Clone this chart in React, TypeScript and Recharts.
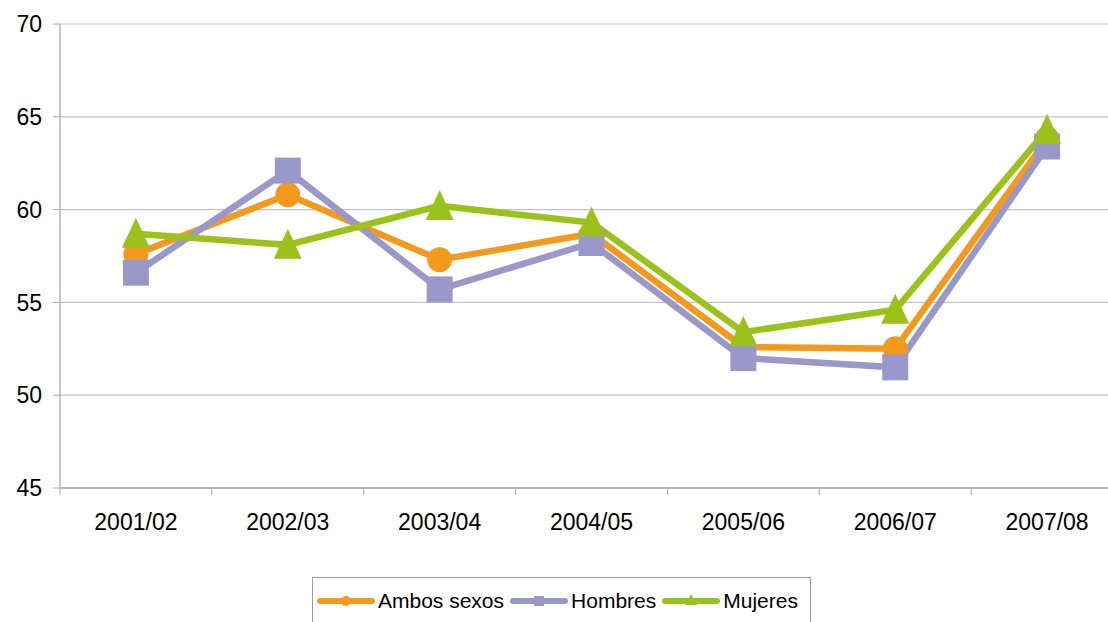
import React from 'react';
import { LineChart, Line, XAxis, YAxis, CartesianGrid, Legend } from 'recharts';

const categories = ['2001/02', '2002/03', '2003/04', '2004/05', '2005/06', '2006/07', '2007/08'];
const ambosSexos = [57.6, 60.8, 57.3, 58.7, 52.6, 52.5, 63.8];
const hombres = [56.6, 62.1, 55.7, 58.2, 52.0, 51.5, 63.4];
const mujeres = [58.7, 58.1, 60.2, 59.3, 53.4, 54.6, 64.3];
const yTicks = [45, 50, 55, 60, 65, 70];

const ORANGE = '#F39A1E';
const PURPLE = '#9A98C8';
const GREEN = '#9BC21B';
const FONT = '"Liberation Sans", Arial, sans-serif';
const HALF_BAND = 75.9;

const data = categories.map((c, i) => ({
  cat: c,
  ambos: ambosSexos[i],
  hombres: hombres[i],
  mujeres: mujeres[i],
}));

const CircleDot = (props: any) => {
  const { cx, cy, index } = props;
  if (cx == null || cy == null) return <g key={`c${index}`} />;
  return <circle key={`c${index}`} cx={cx} cy={cy} r={12.5} fill={ORANGE} />;
};

const SquareDot = (props: any) => {
  const { cx, cy, index } = props;
  if (cx == null || cy == null) return <g key={`s${index}`} />;
  return <rect key={`s${index}`} x={cx - 13} y={cy - 13} width={26} height={26} fill={PURPLE} />;
};

const TriangleDot = (props: any) => {
  const { cx, cy, index } = props;
  if (cx == null || cy == null) return <g key={`t${index}`} />;
  return (
    <polygon
      key={`t${index}`}
      points={`${cx},${cy - 16} ${cx + 14},${cy + 14} ${cx - 14},${cy + 14}`}
      fill={GREEN}
    />
  );
};

// category label in the middle, tick marks on the band edges (Excel style)
const XTick = (props: any) => {
  const { x, y, payload, index } = props;
  const last = index === categories.length - 1;
  return (
    <g>
      <line x1={x - HALF_BAND} y1={y} x2={x - HALF_BAND} y2={y + 7} stroke="#A8A8A8" />
      {last && <line x1={x + HALF_BAND} y1={y} x2={x + HALF_BAND} y2={y + 7} stroke="#A8A8A8" />}
      <text x={x} y={y + 26} dy="0.71em" textAnchor="middle" fill="#000" fontSize={23} fontFamily={FONT}>
        {payload.value}
      </text>
    </g>
  );
};

function LegendIcon({ kind, color }: { kind: string; color: string }) {
  return (
    <svg width={58} height={16} style={{ display: 'block' }}>
      <line x1={3} y1={8} x2={55} y2={8} stroke={color} strokeWidth={6} strokeLinecap="round" />
      {kind === 'circle' && <circle cx={29} cy={8} r={5} fill={color} />}
      {kind === 'square' && <rect x={24} y={3} width={10} height={10} fill={color} />}
      {kind === 'triangle' && <polygon points="29,1 35,12 23,12" fill={color} />}
    </svg>
  );
}

const legendItems = [
  { name: 'Ambos sexos', kind: 'circle', color: ORANGE },
  { name: 'Hombres', kind: 'square', color: PURPLE },
  { name: 'Mujeres', kind: 'triangle', color: GREEN },
];

function renderLegend() {
  return (
    <div
      style={{
        border: '1px solid #9A9A9A',
        height: 60,
        width: 499,
        boxSizing: 'border-box',
        display: 'flex',
        alignItems: 'flex-start',
        paddingTop: 11,
        paddingLeft: 4,
        fontFamily: FONT,
        fontSize: 21,
        color: '#000',
        whiteSpace: 'nowrap',
      }}
    >
      {legendItems.map((it) => (
        <div key={it.name} style={{ display: 'flex', alignItems: 'center', marginRight: 6, flexShrink: 0 }}>
          <LegendIcon kind={it.kind} color={it.color} />
          <span style={{ marginLeft: 3, lineHeight: '24px' }}>{it.name}</span>
        </div>
      ))}
    </div>
  );
}

export default function App() {
  return (
    <div
      style={{
        position: 'absolute',
        left: 0,
        top: 0,
        width: 1108,
        height: 622,
        overflow: 'hidden',
        background: '#fff',
      }}
    >
      <LineChart width={1130} height={660} data={data} margin={{ top: 24, right: 7, left: 0, bottom: 52 }}>
        <CartesianGrid horizontal vertical={false} stroke="#C3BCDA" strokeWidth={1.2} />
        <XAxis
          dataKey="cat"
          height={60}
          padding={{ left: HALF_BAND, right: HALF_BAND }}
          tickSize={0}
          tickMargin={0}
          axisLine={{ stroke: '#A8A8A8', strokeWidth: 1.5 }}
          tickLine={false}
          tick={XTick}
          interval={0}
        />
        <YAxis
          domain={[45, 70]}
          ticks={yTicks}
          width={60}
          tickSize={7}
          tickMargin={11}
          axisLine={{ stroke: '#B4AECB', strokeWidth: 1.5 }}
          tickLine={{ stroke: '#A8A8A8' }}
          tick={{ fill: '#000', fontSize: 23, fontFamily: FONT }}
          allowDataOverflow
        />
        <Legend
          verticalAlign="bottom"
          content={renderLegend}
          wrapperStyle={{ position: 'absolute', top: 577, left: 312, bottom: 'auto', width: 499, height: 60 }}
        />
        <Line
          dataKey="ambos"
          name="Ambos sexos"
          stroke={ORANGE}
          strokeWidth={6.5}
          dot={CircleDot}
          activeDot={false}
          isAnimationActive={false}
        />
        <Line
          dataKey="hombres"
          name="Hombres"
          stroke={PURPLE}
          strokeWidth={6.5}
          dot={SquareDot}
          activeDot={false}
          isAnimationActive={false}
        />
        <Line
          dataKey="mujeres"
          name="Mujeres"
          stroke={GREEN}
          strokeWidth={6.5}
          dot={TriangleDot}
          activeDot={false}
          isAnimationActive={false}
        />
      </LineChart>
    </div>
  );
}
